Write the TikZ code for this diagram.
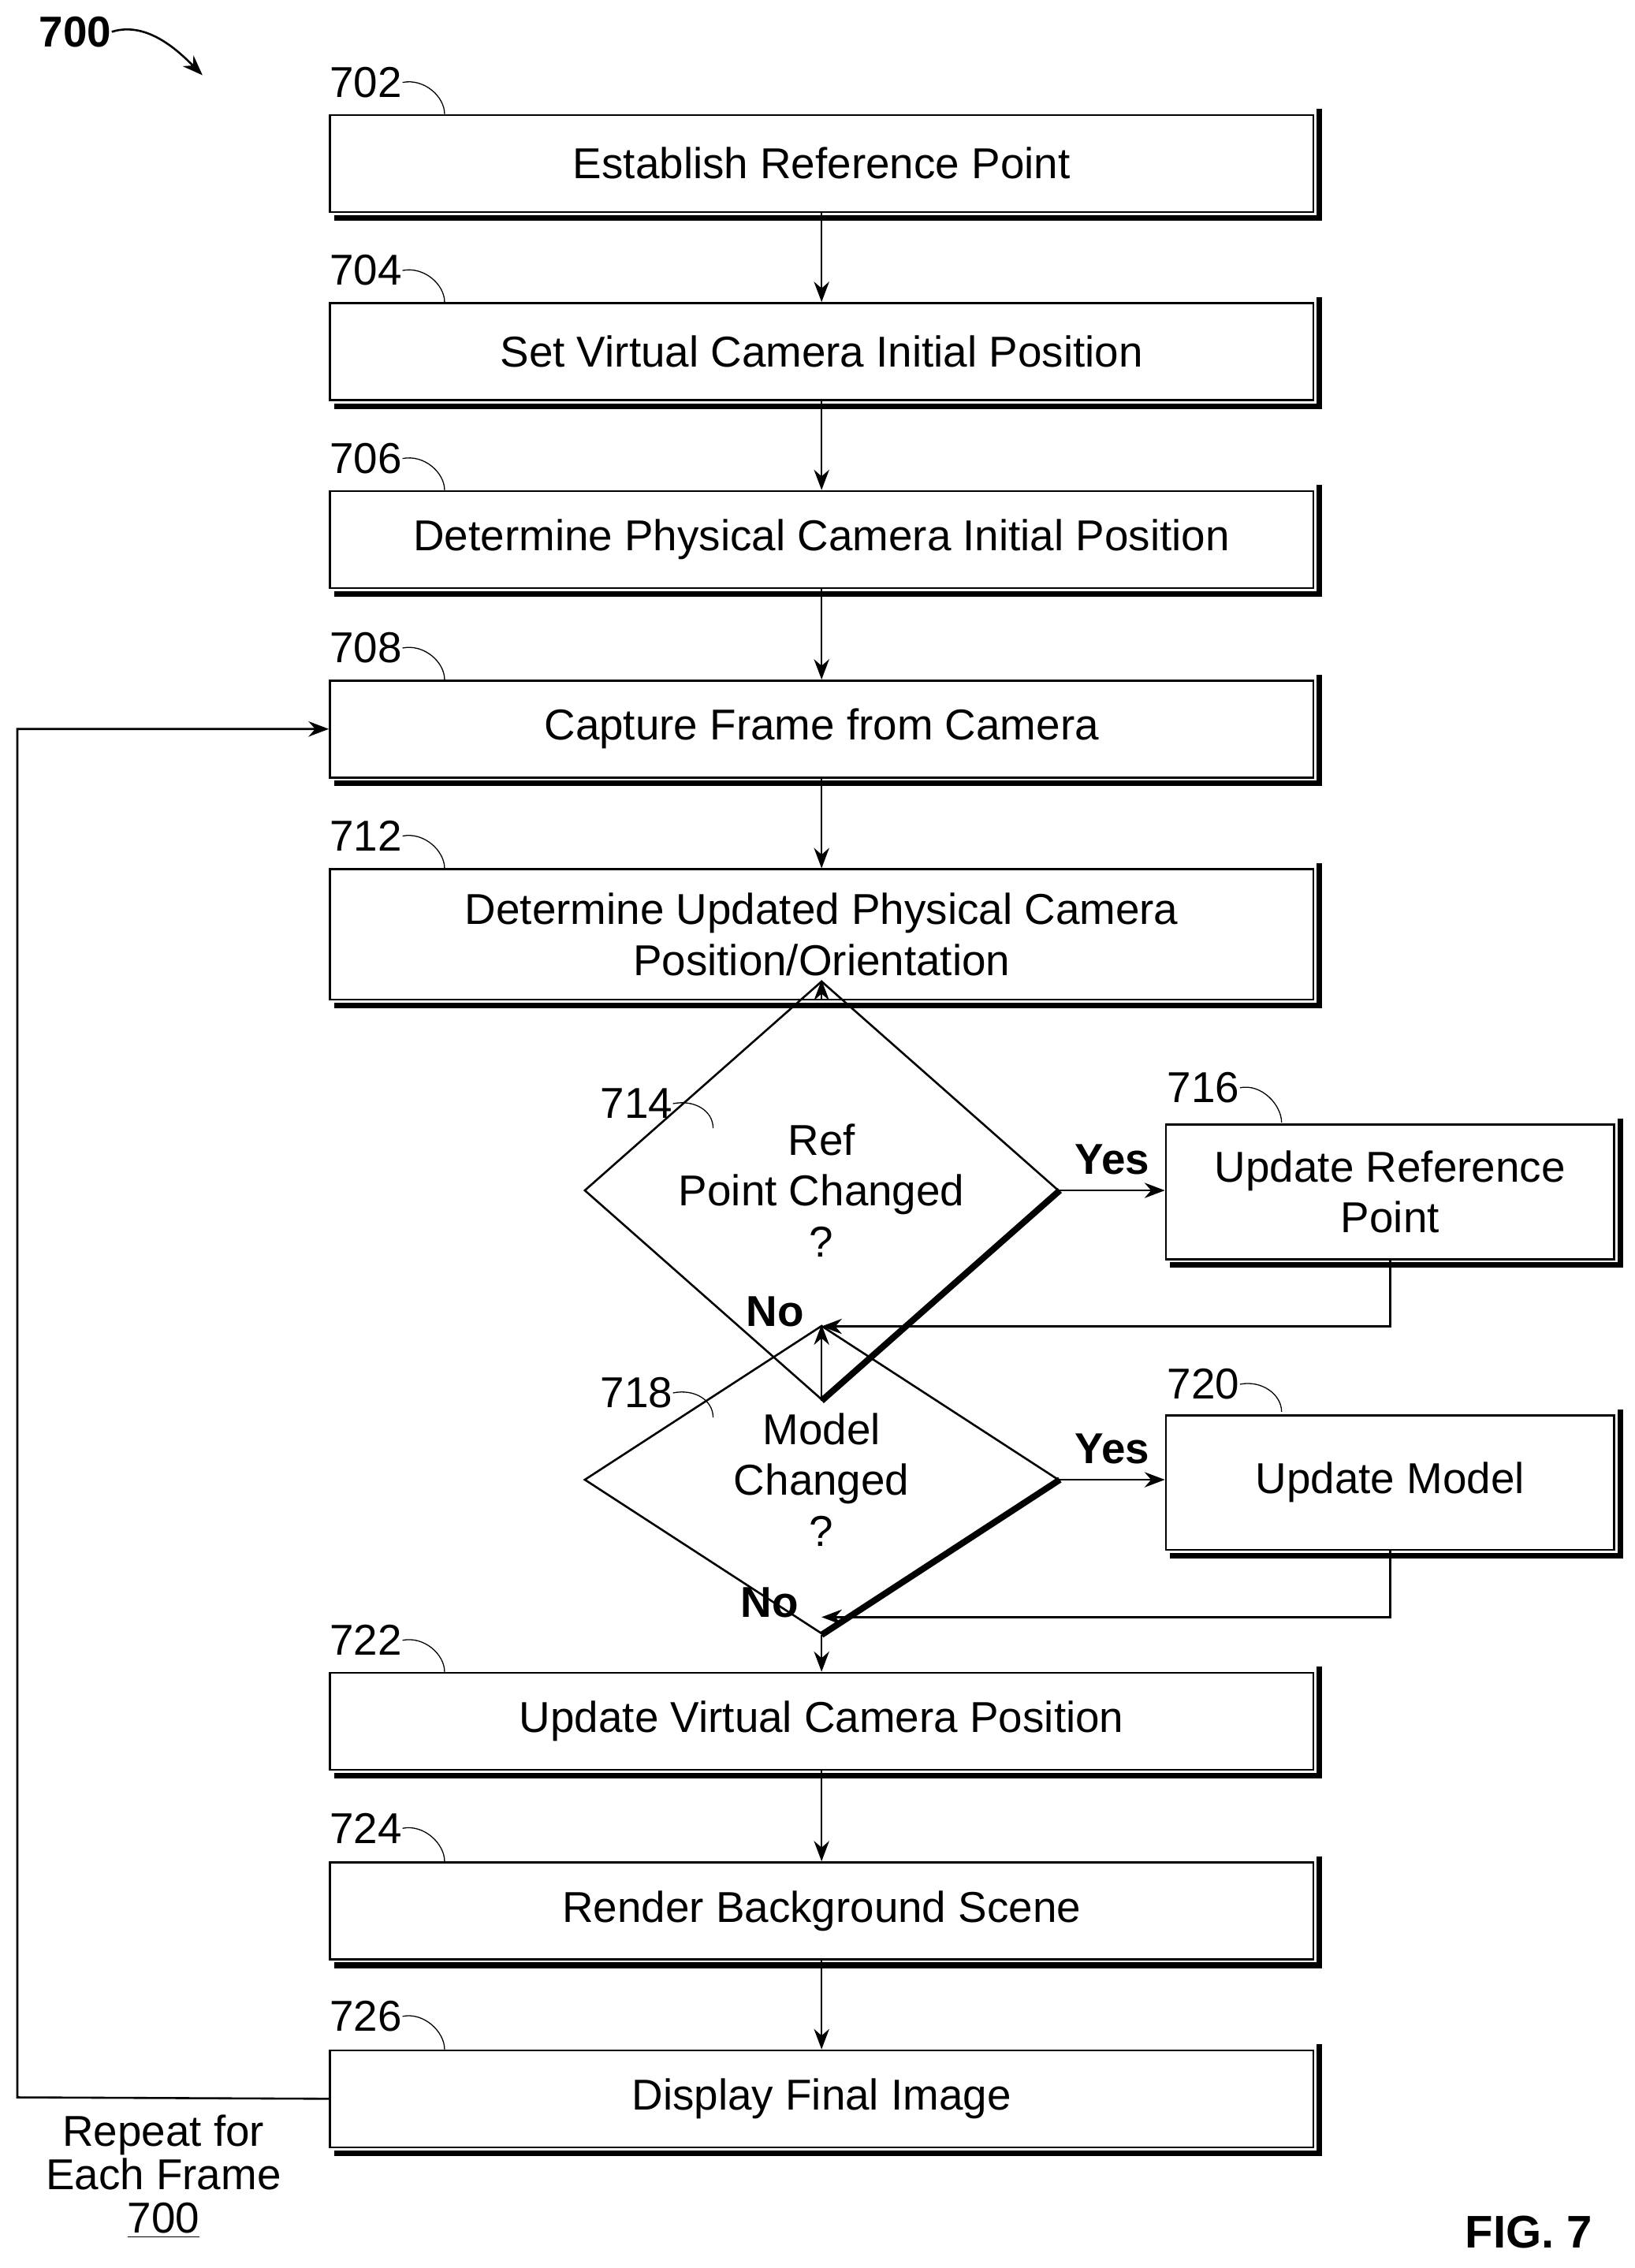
\documentclass[tikz,border=0pt]{standalone}
\usepackage{fontspec}
\setmainfont{Liberation Sans}
\usetikzlibrary{shapes.geometric,arrows.meta}
\begin{document}
\fontsize{17}{20}\selectfont
\begin{tikzpicture}[x=0.02cm,y=-0.02cm,
	stepbox/.style={draw, thick, minimum width=13.6cm, minimum height=1.34cm, align=center, inner sep=0pt},
	side/.style={draw, thick, minimum width=6.2cm, minimum height=1.86cm, align=center, inner sep=0pt},
	test/.style={draw, thick, diamond, minimum width=6.56cm, minimum height=2.76cm, align=center, inner sep=0pt},
	flow/.style={-{Stealth[length=8pt,width=6pt]}, thick},
	tag/.style={inner sep=0pt}]
	\useasboundingbox (0,0) rectangle (1130,1568);
	% main boxes
	\node[stepbox] (b702) at (568,113) {Establish Reference Point};
	\node[stepbox] (b704) at (568,243) {Set Virtual Camera Initial Position};
	\node[stepbox] (b706) at (568,373) {Determine Physical Camera Initial Position};
	\node[stepbox] (b708) at (568,504) {Capture Frame from Camera};
	\node[stepbox, minimum height=1.8cm] (b712) at (568,646) {Determine Updated Physical Camera\\Position/Orientation};
	\node[test] (d714) at (568,823) {Ref\\Point Changed\\?};
	\node[side] (b716) at (961,824) {Update Reference\\Point};
	\node[test] (d718) at (568,1023) {Model\\Changed\\?};
	\node[side] (b720) at (961,1025) {Update Model};
	\node[stepbox] (b722) at (568,1190) {Update Virtual Camera Position};
	\node[stepbox] (b724) at (568,1321) {Render Background Scene};
	\node[stepbox] (b726) at (568,1451) {Display Final Image};
	% shadows
	\foreach \n in {b702,b704,b706,b708,b712,b716,b720,b722,b724,b726}
		\draw[line width=2.2pt] ([xshift=2pt,yshift=2pt]\n.north east) -- ([xshift=2pt,yshift=-2pt]\n.south east) -- ([xshift=2pt,yshift=-2pt]\n.south west);
	\foreach \n in {d714,d718}
		\draw[line width=2.5pt] (\n.east) -- (\n.south);
	% connectors
	\draw[flow] (b702) -- (b704);
	\draw[flow] (b704) -- (b706);
	\draw[flow] (b706) -- (b708);
	\draw[flow] (b708) -- (b712);
	\draw[flow] (b712) -- (d714);
	\draw[flow] (d714) -- (d718);
	\draw[flow] (d718) -- (b722);
	\draw[flow] (b722) -- (b724);
	\draw[flow] (b724) -- (b726);
	\draw[flow] (d714.east) -- node[above, font=\bfseries] {Yes} (b716.west |- d714.east);
	\draw[flow] (d718.east) -- node[above, font=\bfseries] {Yes} (b720.west |- d718.east);
	\coordinate (m1) at (568,917);
	\coordinate (m2) at (568,1118);
	\draw[flow] (b716.south) |- (m1);
	\draw[flow] (b720.south) |- (m2);
	\node[font=\bfseries] (no1) at (536,907) {No};
	\node[font=\bfseries] (no2) at (532,1108) {No};
	\coordinate (lp) at (12,1450);
	\draw[flow] (b726.west) -- (lp) |- (b708.west);
	% reference numbers
	\foreach \n/\t/\y in {702/b702/57, 704/b704/187, 706/b706/317, 708/b708/448, 712/b712/578, 722/b722/1134, 724/b724/1264, 726/b726/1394} {
		\node[tag] (t\n) at (253,\y) {\n};
		\draw (t\n.east) .. controls +(15,-3) and +(0,-12) .. ([xshift=1.6cm]\t.north west);
	}
	\node[tag] (t714) at (440,763) {714};
	\draw (t714.east) .. controls +(15,-3) and +(0,-12) .. (493,780);
	\node[tag] (t718) at (440,963) {718};
	\draw (t718.east) .. controls +(15,-3) and +(0,-12) .. (493,980);
	\node[tag] (t716) at (832,752) {716};
	\draw (t716.east) .. controls +(15,-3) and +(0,-12) .. (886,776);
	\node[tag] (t720) at (832,957) {720};
	\draw (t720.east) .. controls +(15,-3) and +(0,-12) .. (886,976);
	\node[tag, font=\bfseries] (t700) at (52,22) {700};
	\draw[flow] (t700.east) .. controls +(25,-8) and +(-15,-15) .. (140,52);
	\node[align=center, font=\fontsize{17}{17}\selectfont] (rep) at (113,1505) {Repeat for\\Each Frame\\\underline{700}};
	\node[font=\bfseries\fontsize{18}{20}\selectfont] (fig) at (1057,1543) {FIG. 7};
\end{tikzpicture}
\end{document}
